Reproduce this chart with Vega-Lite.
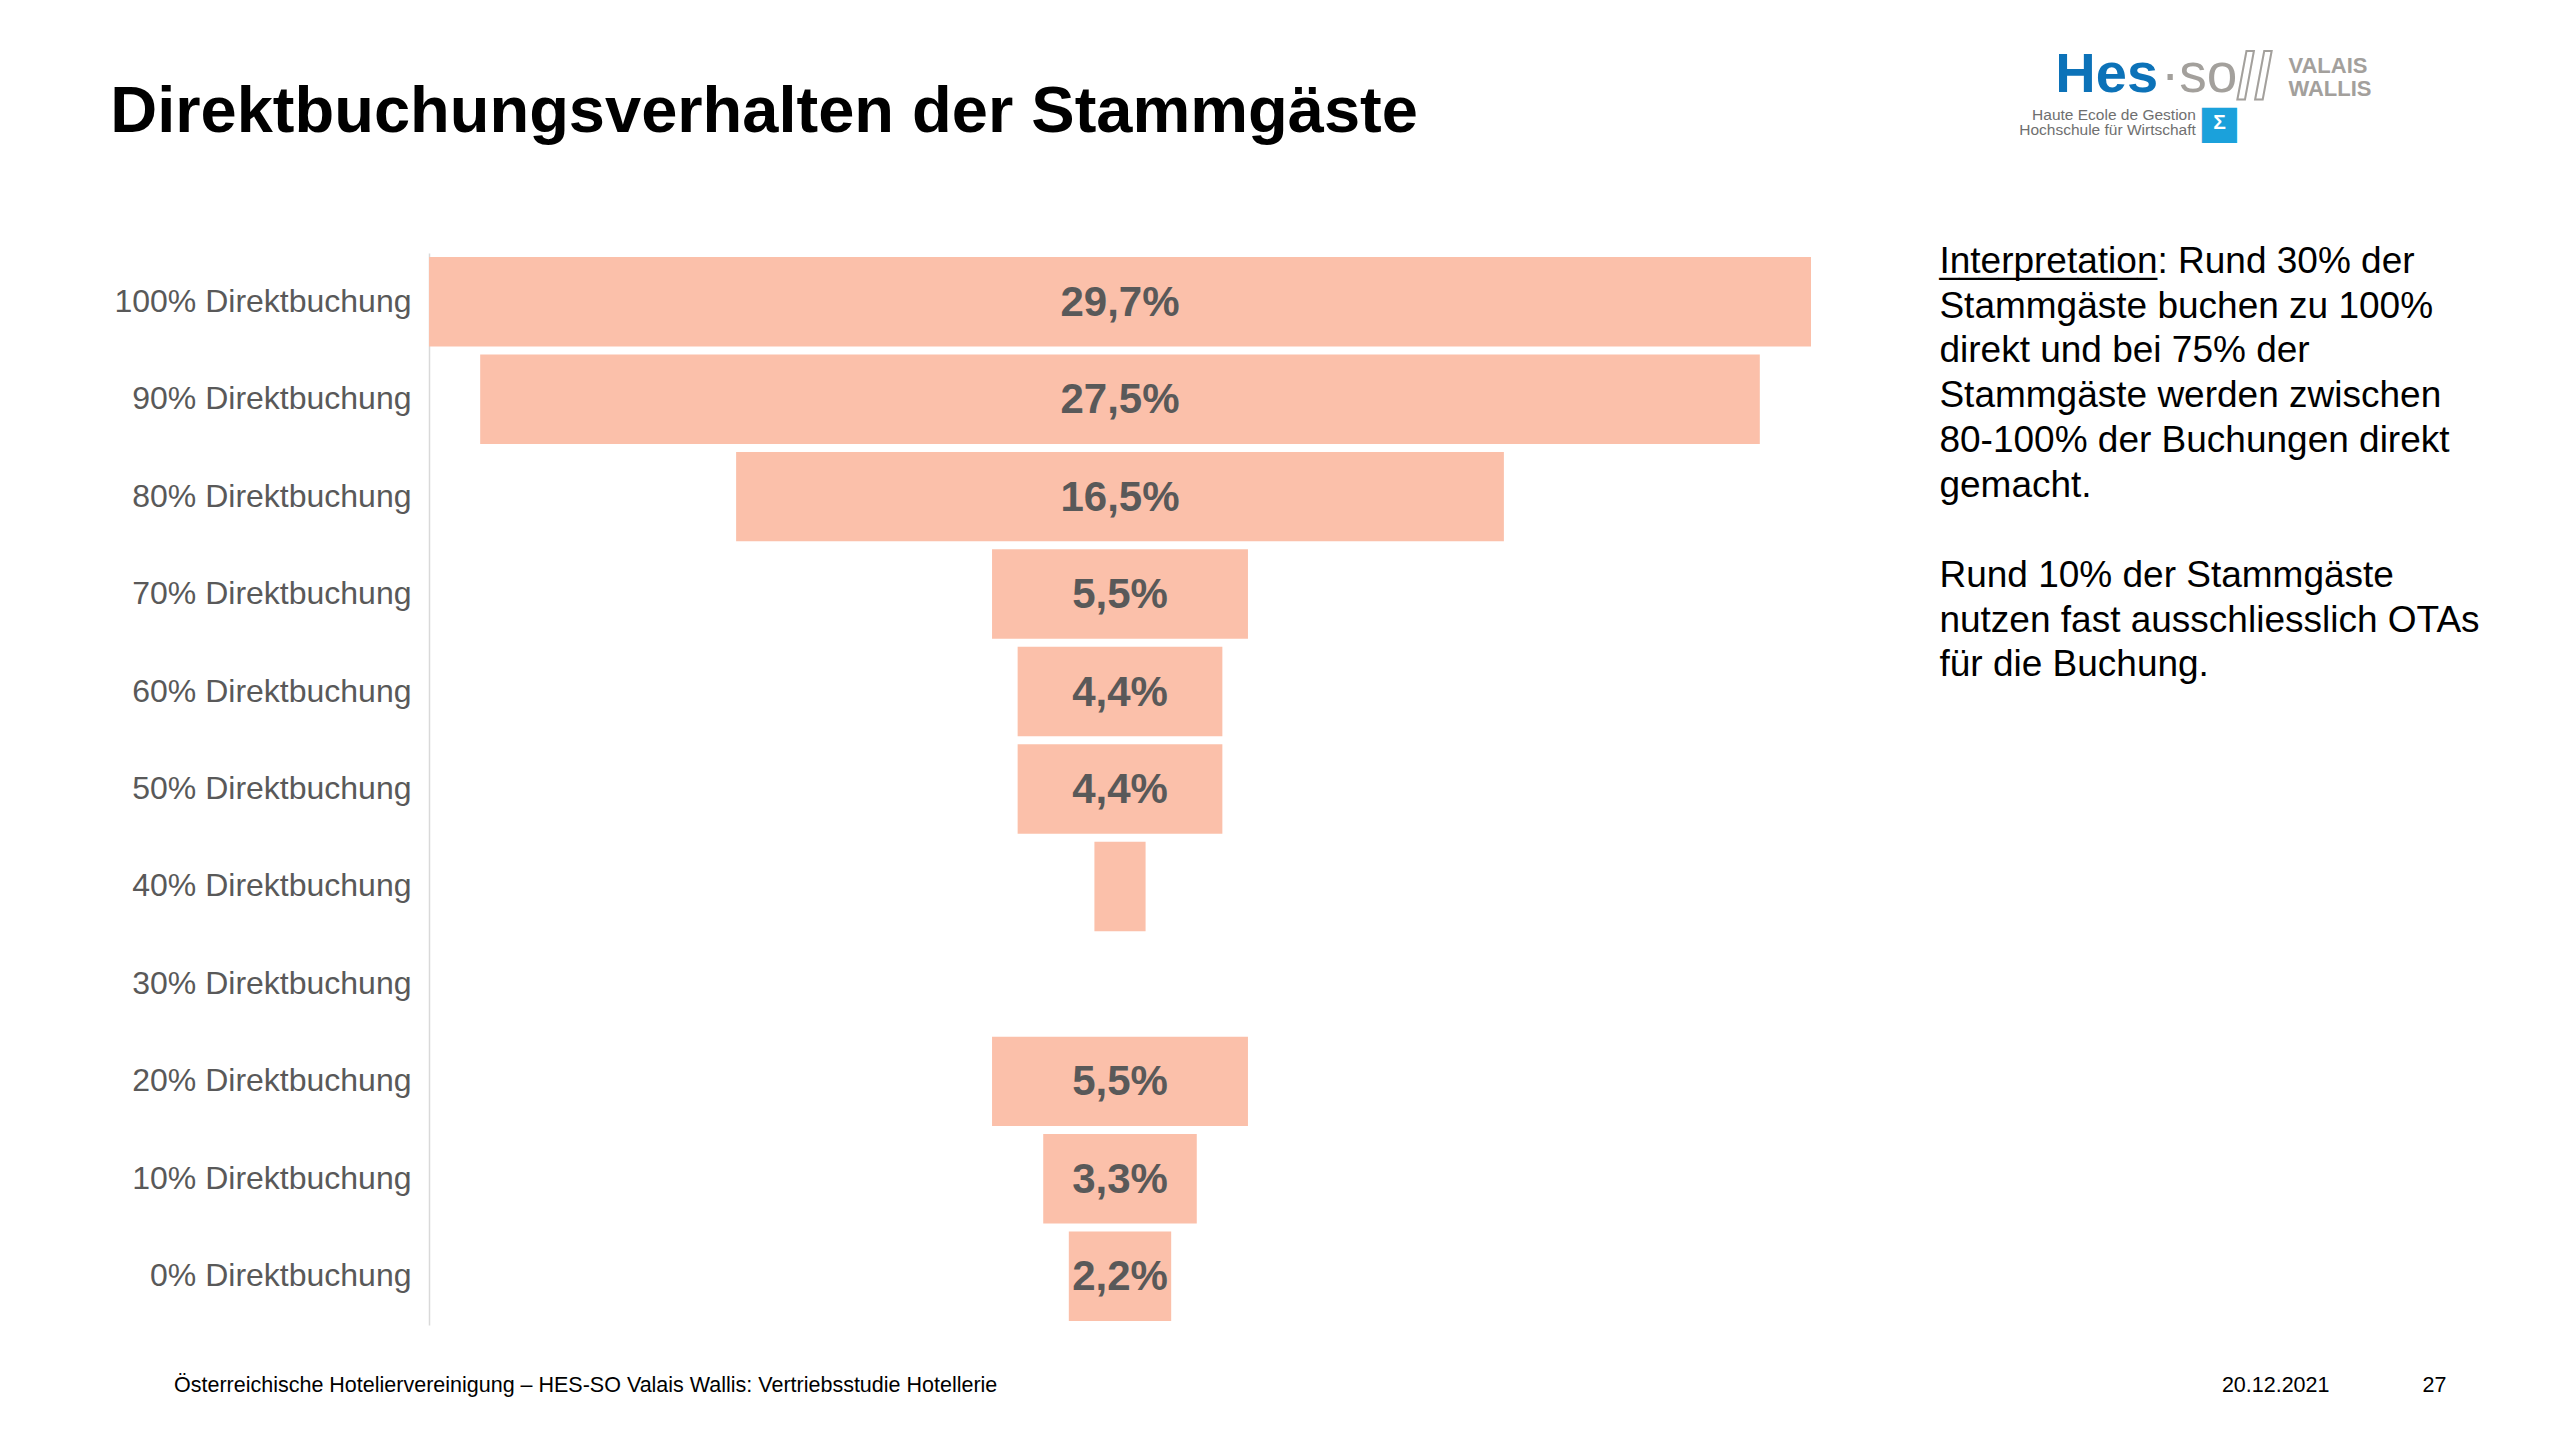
{
  "$schema": "https://vega.github.io/schema/vega-lite/v6.json",
  "autosize": {"type": "none"},
  "width": 1382,
  "height": 1072,
  "padding": {"left": 429, "top": 253, "right": 749, "bottom": 115},
  "background": "#ffffff",
  "config": {
    "view": {"stroke": null},
    "locale": {"number": {"decimal": ",", "thousands": ".", "grouping": [3], "currency": ["", " €"]}},
    "axisY": {
      "labelFont": "Liberation Sans",
      "labelFontSize": 32,
      "labelColor": "#595959",
      "labelPadding": 18,
      "labelLimit": 0,
      "ticks": false,
      "grid": false,
      "domainColor": "#D9D9D9",
      "domainWidth": 1.5,
      "title": null
    }
  },
  "data": {
    "values": [
      {"cat": "100% Direktbuchung", "share": 0.297},
      {"cat": "90% Direktbuchung", "share": 0.275},
      {"cat": "80% Direktbuchung", "share": 0.165},
      {"cat": "70% Direktbuchung", "share": 0.055},
      {"cat": "60% Direktbuchung", "share": 0.044},
      {"cat": "50% Direktbuchung", "share": 0.044},
      {"cat": "40% Direktbuchung", "share": 0.011},
      {"cat": "30% Direktbuchung", "share": 0.0},
      {"cat": "20% Direktbuchung", "share": 0.055},
      {"cat": "10% Direktbuchung", "share": 0.033},
      {"cat": "0% Direktbuchung", "share": 0.022}
    ]
  },
  "encoding": {
    "y": {
      "field": "cat",
      "type": "nominal",
      "sort": null,
      "scale": {"paddingInner": 0.082, "paddingOuter": 0.041},
      "axis": {"title": null}
    }
  },
  "layer": [
    {
      "mark": {"type": "bar", "color": "#FBC0AA"},
      "encoding": {
        "x": {
          "field": "share",
          "type": "quantitative",
          "stack": "center",
          "scale": {"domain": [0, 0.297], "nice": false, "zero": false},
          "axis": null
        }
      }
    },
    {
      "transform": [{"filter": "datum.share >= 0.02"}],
      "mark": {"type": "text", "font": "Liberation Sans", "fontSize": 42, "fontWeight": "bold", "color": "#595959", "align": "center", "baseline": "middle", "dy": 1},
      "encoding": {
        "x": {"datum": 0.1485, "type": "quantitative"},
        "text": {"field": "share", "type": "quantitative", "format": ".1%"}
      }
    },
    {
      "data": {"values": [{"t": "x"}]},
      "mark": {"type": "text", "font": "Liberation Sans", "fontSize": 65, "fontWeight": "bold", "color": "#000000", "align": "left", "baseline": "alphabetic", "dy": -170},
      "encoding": {
        "x": {"datum": -0.0685, "type": "quantitative"},
        "y": {"datum": "100% Direktbuchung"},
        "text": {"value": "Direktbuchungsverhalten der Stammgäste"}
      }
    },
    {
      "data": {"values": [{"t": "x"}]},
      "mark": {"type": "text", "font": "Liberation Sans", "fontSize": 37, "color": "#000000", "align": "left", "baseline": "alphabetic", "dy": -29, "lineHeight": 44.8},
      "encoding": {
        "x": {"datum": 0.3246, "type": "quantitative"},
        "y": {"datum": "100% Direktbuchung"},
        "text": {"value": ["Interpretation: Rund 30% der", "Stammgäste buchen zu 100%", "direkt und bei 75% der", "Stammgäste werden zwischen", "80-100% der Buchungen direkt", "gemacht."]}
      }
    },
    {
      "data": {"values": [{"t": "x"}]},
      "mark": {"type": "text", "font": "Liberation Sans", "fontSize": 37, "color": "#000000", "align": "left", "baseline": "alphabetic", "dy": 285, "lineHeight": 44.8},
      "encoding": {
        "x": {"datum": 0.3246, "type": "quantitative"},
        "y": {"datum": "100% Direktbuchung"},
        "text": {"value": ["Rund 10% der Stammgäste", "nutzen fast ausschliesslich OTAs", "für die Buchung."]}
      }
    },
    {
      "data": {"values": [{"t": "x"}]},
      "mark": {"type": "text", "font": "Liberation Sans", "fontSize": 35.6, "color": "#000000", "align": "left", "baseline": "alphabetic", "dy": -29},
      "encoding": {
        "x": {"datum": 0.3246, "type": "quantitative"},
        "y": {"datum": "100% Direktbuchung"},
        "text": {"value": "___________"}
      }
    },
    {
      "data": {"values": [{"t": "x"}]},
      "mark": {"type": "text", "font": "Liberation Sans", "fontSize": 56, "fontWeight": "bold", "color": "#0C72B8", "align": "left", "baseline": "alphabetic", "dy": -210},
      "encoding": {
        "x": {"datum": 0.3495, "type": "quantitative"},
        "y": {"datum": "100% Direktbuchung"},
        "text": {"value": "Hes"}
      }
    },
    {
      "data": {"values": [{"t": "x"}]},
      "mark": {"type": "text", "font": "Liberation Sans", "fontSize": 55, "color": "#A3A09C", "align": "left", "baseline": "alphabetic", "dy": -210},
      "encoding": {
        "x": {"datum": 0.3722, "type": "quantitative"},
        "y": {"datum": "100% Direktbuchung"},
        "text": {"value": "·so"}
      }
    },
    {
      "data": {"values": [{"t": "x"}]},
      "mark": {"type": "text", "font": "Liberation Sans", "fontSize": 64, "fontWeight": "bold", "color": "#ffffff", "stroke": "#A3A09C", "strokeWidth": 2, "align": "left", "baseline": "alphabetic", "dy": -204},
      "encoding": {
        "x": {"datum": 0.3885, "type": "quantitative"},
        "y": {"datum": "100% Direktbuchung"},
        "text": {"value": "//"}
      }
    },
    {
      "data": {"values": [{"t": "x"}]},
      "mark": {"type": "text", "font": "Liberation Sans", "fontSize": 22, "fontWeight": "bold", "color": "#A3A09C", "align": "left", "baseline": "alphabetic", "dy": -229, "lineHeight": 23},
      "encoding": {
        "x": {"datum": 0.3996, "type": "quantitative"},
        "y": {"datum": "100% Direktbuchung"},
        "text": {"value": ["VALAIS", "WALLIS"]}
      }
    },
    {
      "data": {"values": [{"t": "x"}]},
      "mark": {"type": "text", "font": "Liberation Sans", "fontSize": 15.5, "color": "#6F6F6F", "align": "right", "baseline": "alphabetic", "dy": -182, "lineHeight": 15},
      "encoding": {
        "x": {"datum": 0.3797, "type": "quantitative"},
        "y": {"datum": "100% Direktbuchung"},
        "text": {"value": ["Haute Ecole de Gestion", "Hochschule für Wirtschaft"]}
      }
    },
    {
      "data": {"values": [{"t": "x"}]},
      "mark": {"type": "text", "font": "DejaVu Sans", "fontSize": 46, "color": "#1BA1DB", "align": "center", "baseline": "middle", "dy": -179},
      "encoding": {
        "x": {"datum": 0.3848, "type": "quantitative"},
        "y": {"datum": "100% Direktbuchung"},
        "text": {"value": "■"}
      }
    },
    {
      "data": {"values": [{"t": "x"}]},
      "mark": {"type": "text", "font": "Liberation Sans", "fontSize": 21, "fontWeight": "bold", "color": "#ffffff", "align": "center", "baseline": "middle", "dy": -179},
      "encoding": {
        "x": {"datum": 0.3848, "type": "quantitative"},
        "y": {"datum": "100% Direktbuchung"},
        "text": {"value": "Σ"}
      }
    },
    {
      "data": {"values": [{"t": "x"}]},
      "mark": {"type": "text", "font": "Liberation Sans", "fontSize": 21.5, "color": "#000000", "align": "left", "baseline": "alphabetic", "dy": 116},
      "encoding": {
        "x": {"datum": -0.0548, "type": "quantitative"},
        "y": {"datum": "0% Direktbuchung"},
        "text": {"value": "Österreichische Hoteliervereinigung – HES-SO Valais Wallis: Vertriebsstudie Hotellerie"}
      }
    },
    {
      "data": {"values": [{"t": "x"}]},
      "mark": {"type": "text", "font": "Liberation Sans", "fontSize": 21.5, "color": "#000000", "align": "left", "baseline": "alphabetic", "dy": 116},
      "encoding": {
        "x": {"datum": 0.3853, "type": "quantitative"},
        "y": {"datum": "0% Direktbuchung"},
        "text": {"value": "20.12.2021"}
      }
    },
    {
      "data": {"values": [{"t": "x"}]},
      "mark": {"type": "text", "font": "Liberation Sans", "fontSize": 21.5, "color": "#000000", "align": "left", "baseline": "alphabetic", "dy": 116},
      "encoding": {
        "x": {"datum": 0.4284, "type": "quantitative"},
        "y": {"datum": "0% Direktbuchung"},
        "text": {"value": "27"}
      }
    }
  ]
}
